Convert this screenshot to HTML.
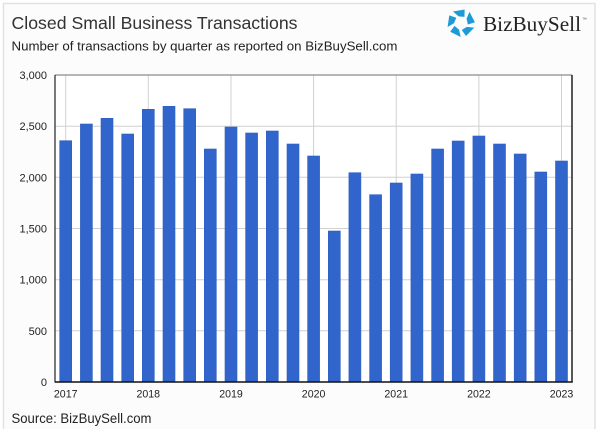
<!DOCTYPE html>
<html>
<head>
<meta charset="utf-8">
<style>
  html,body{margin:0;padding:0;background:#fff;}
  body{width:600px;height:429px;overflow:hidden;}
  svg{display:block;}
  text{font-family:"Liberation Sans",Arial,sans-serif;}
</style>
</head>
<body>
<svg width="600" height="429" viewBox="0 0 600 429" xmlns="http://www.w3.org/2000/svg">
  <!-- outer card -->
  <rect x="0" y="0" width="600" height="429" fill="#ffffff"/>
  <rect x="3.5" y="3.5" width="591.5" height="440" fill="#fcfcfc" stroke="#e2e2e2" stroke-width="1.5"/>

  <!-- title -->
  <text x="11.5" y="29" font-size="17.5" fill="#333" textLength="286" lengthAdjust="spacingAndGlyphs">Closed Small Business Transactions</text>
  <text x="11.5" y="50.5" font-size="13" fill="#222" textLength="386" lengthAdjust="spacingAndGlyphs">Number of transactions by quarter as reported on BizBuySell.com</text>

  <!-- logo -->
  <g fill="#1e9bd7">
    <polygon transform="translate(461,23) rotate(0)" points="-8.0,-11.5 3.6,-13.5 3.5,-6.1 -2.4,-6.6"/>
    <polygon transform="translate(461,23) rotate(72)" points="-8.0,-11.5 3.6,-13.5 3.5,-6.1 -2.4,-6.6"/>
    <polygon transform="translate(461,23) rotate(144)" points="-8.0,-11.5 3.6,-13.5 3.5,-6.1 -2.4,-6.6"/>
    <polygon transform="translate(461,23) rotate(216)" points="-8.0,-11.5 3.6,-13.5 3.5,-6.1 -2.4,-6.6"/>
    <polygon transform="translate(461,23) rotate(288)" points="-8.0,-11.5 3.6,-13.5 3.5,-6.1 -2.4,-6.6"/>
  </g>
  <text x="483" y="31" font-family="Liberation Serif, serif" font-size="21" fill="#222" textLength="98" lengthAdjust="spacingAndGlyphs" style="font-family:'Liberation Serif',serif">BizBuySell</text>
  <text x="582" y="21" font-size="5" fill="#555">™</text>

  <!-- plot area -->
  <rect x="55" y="75" width="517" height="307" fill="#ffffff"/>

  <!-- horizontal gridlines -->
  <g stroke="#d0d0d0" stroke-width="1">
    <line x1="55" y1="126.2" x2="572" y2="126.2"/>
    <line x1="55" y1="177.3" x2="572" y2="177.3"/>
    <line x1="55" y1="228.5" x2="572" y2="228.5"/>
    <line x1="55" y1="279.7" x2="572" y2="279.7"/>
    <line x1="55" y1="330.8" x2="572" y2="330.8"/>
  </g>
  <!-- vertical gridlines -->
  <g stroke="#d0d0d0" stroke-width="1">
    <line x1="65.7" y1="75" x2="65.7" y2="382"/>
    <line x1="148.3" y1="75" x2="148.3" y2="382"/>
    <line x1="231" y1="75" x2="231" y2="382"/>
    <line x1="313.6" y1="75" x2="313.6" y2="382"/>
    <line x1="396.2" y1="75" x2="396.2" y2="382"/>
    <line x1="478.9" y1="75" x2="478.9" y2="382"/>
    <line x1="561.5" y1="75" x2="561.5" y2="382"/>
  </g>

  <!-- bars -->
  <g fill="#3165cc" stroke="#2f5fc4" stroke-width="0.6">
    <rect x="59.7" y="140.7" width="12" height="241.3"/>
    <rect x="80.4" y="124.0" width="12" height="258.0"/>
    <rect x="101.0" y="118.3" width="12" height="263.7"/>
    <rect x="121.7" y="134.0" width="12" height="248.0"/>
    <rect x="142.3" y="109.3" width="12" height="272.7"/>
    <rect x="163.0" y="106.3" width="12" height="275.7"/>
    <rect x="183.7" y="108.7" width="12" height="273.3"/>
    <rect x="204.3" y="149.0" width="12" height="233.0"/>
    <rect x="225.0" y="127.0" width="12" height="255.0"/>
    <rect x="245.6" y="133.0" width="12" height="249.0"/>
    <rect x="266.3" y="131.0" width="12" height="251.0"/>
    <rect x="287.0" y="144.0" width="12" height="238.0"/>
    <rect x="307.6" y="156.0" width="12" height="226.0"/>
    <rect x="328.3" y="231.0" width="12" height="151.0"/>
    <rect x="348.9" y="172.7" width="12" height="209.3"/>
    <rect x="369.6" y="194.7" width="12" height="187.3"/>
    <rect x="390.2" y="183.0" width="12" height="199.0"/>
    <rect x="410.9" y="174.0" width="12" height="208.0"/>
    <rect x="431.6" y="149.0" width="12" height="233.0"/>
    <rect x="452.2" y="141.0" width="12" height="241.0"/>
    <rect x="472.9" y="136.0" width="12" height="246.0"/>
    <rect x="493.5" y="144.0" width="12" height="238.0"/>
    <rect x="514.2" y="154.0" width="12" height="228.0"/>
    <rect x="534.8" y="172.0" width="12" height="210.0"/>
    <rect x="555.5" y="161.0" width="12" height="221.0"/>
  </g>

  <!-- frame -->
  <line x1="55" y1="75" x2="572" y2="75" stroke="#8a8a8a" stroke-width="1.2"/>
  <line x1="572" y1="75" x2="572" y2="382.5" stroke="#222" stroke-width="1.5"/>
  <line x1="55" y1="75" x2="55" y2="382.5" stroke="#333" stroke-width="1.3"/>
  <line x1="55" y1="382" x2="572.7" y2="382" stroke="#111" stroke-width="1.5"/>

  <!-- y labels -->
  <g font-size="11" fill="#222" text-anchor="end">
    <text x="47" y="79">3,000</text>
    <text x="47" y="130.2">2,500</text>
    <text x="47" y="181.3">2,000</text>
    <text x="47" y="232.5">1,500</text>
    <text x="47" y="283.7">1,000</text>
    <text x="47" y="334.8">500</text>
    <text x="47" y="386">0</text>
  </g>

  <!-- x labels -->
  <g font-size="10.6" fill="#222" text-anchor="middle">
    <text x="65.7" y="397.5">2017</text>
    <text x="148.3" y="397.5">2018</text>
    <text x="231" y="397.5">2019</text>
    <text x="313.6" y="397.5">2020</text>
    <text x="396.2" y="397.5">2021</text>
    <text x="478.9" y="397.5">2022</text>
    <text x="561.5" y="397.5">2023</text>
  </g>

  <!-- source -->
  <text x="11.5" y="423" font-size="14" fill="#222" textLength="140" lengthAdjust="spacingAndGlyphs">Source: BizBuySell.com</text>
</svg>
</body>
</html>
